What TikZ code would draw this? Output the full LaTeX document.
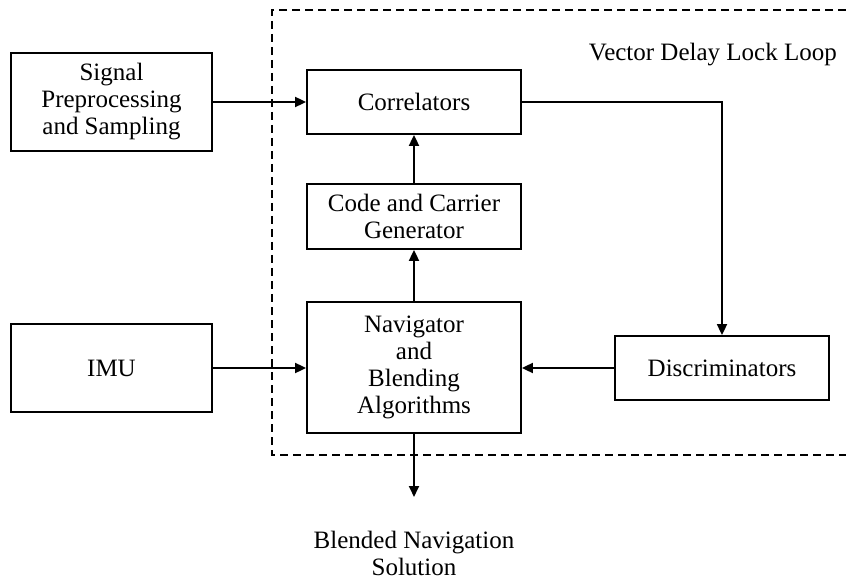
\documentclass[tikz,border=0pt]{standalone}
\usepackage{fontspec}
\setmainfont{Liberation Serif}
\usetikzlibrary{arrows.meta}
\begin{document}
\begin{tikzpicture}[x=1pt,y=-1pt,
  txt/.style={font=\fontsize{25}{27}\selectfont},
  blk/.style={txt,draw,line width=1.8pt,inner sep=0pt,align=center},
  lbl/.style={txt,inner sep=0pt,align=center},
  conn/.style={line width=1.8pt,-{Triangle[length=11pt,width=10pt]}},
  loopbox/.style={line width=1.8pt,dash pattern=on 8pt off 5pt}
]
\useasboundingbox (0,0) rectangle (846,580);
% dashed loop boundary (right side lies beyond the picture)
\coordinate (dtr) at (846,10);
\coordinate (dtl) at (272,10);
\coordinate (dbl) at (272,455);
\coordinate (dbr) at (846,455);
\draw[loopbox] (dtr) -- (dtl) -- (dbl) -- (dbr);
\node[lbl,anchor=base east] (vdll) at (837,61) {Vector Delay Lock Loop};

% blocks
\node[blk,minimum width=201pt,minimum height=98pt] (sig) at (111.5,102) {Signal\\Preprocessing\\and Sampling};
\node[blk,minimum width=201pt,minimum height=88pt] (imu) at (111.5,368) {IMU};
\node[blk,minimum width=214pt,minimum height=64pt] (cor) at (414,102) {Correlators};
\node[blk,minimum width=214pt,minimum height=65pt] (gen) at (414,216.5) {Code and Carrier\\Generator};
\node[blk,minimum width=214pt,minimum height=131pt] (nav) at (414,367.5) {Navigator\\and\\Blending\\Algorithms};
\node[blk,minimum width=214pt,minimum height=64pt] (dis) at (722,368) {Discriminators};
\node[lbl] (sol) at (414,553) {Blended Navigation\\Solution};
\coordinate (solarrow) at (414,497);

% connectors
\draw[conn] (sig.east) -- (cor.west);
\draw[conn] (cor.east) -| (dis.north);
\draw[conn] (gen.north) -- (cor.south);
\draw[conn] (nav.north) -- (gen.south);
\draw[conn] (imu.east) -- (nav.west |- imu.east);
\draw[conn] (dis.west) -- (nav.east |- dis.west);
\draw[conn] (nav.south) -- (solarrow);
\end{tikzpicture}
\end{document}
